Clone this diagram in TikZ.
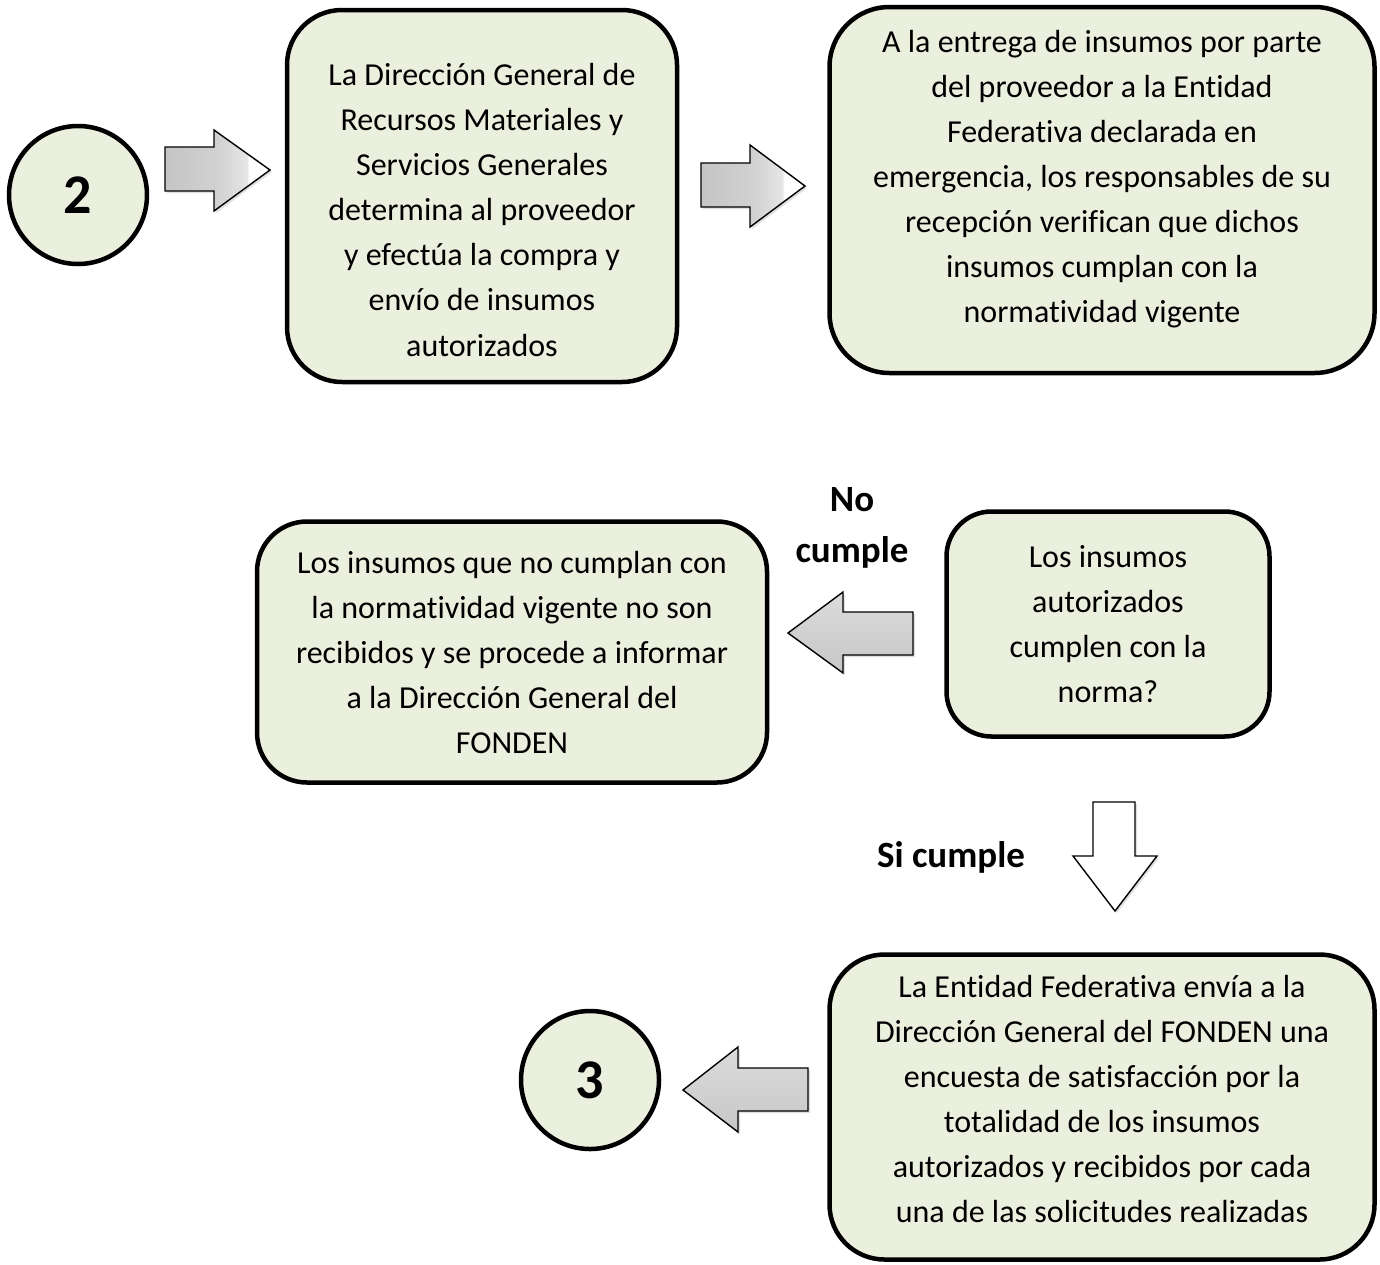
\documentclass[tikz,border=0pt]{standalone}
\usepackage{fontspec}
\setmainfont{Carlito}[Ligatures=NoCommon]
\usetikzlibrary{shadows}
\definecolor{boxfill}{RGB}{235,239,221}
\pgfdeclarehorizontalshading{rarrow}{100bp}{color(0bp)=(black!28); color(50bp)=(black!18); color(64bp)=(black!10); color(65bp)=(white); color(100bp)=(white)}
\pgfdeclareverticalshading{larrow}{100bp}{color(0bp)=(black!26); color(50bp)=(black!18); color(100bp)=(black!10)}
\tikzset{
  stepbox/.style={draw=black, line width=4.5pt, fill=boxfill, rounded corners=#1},
  stepbox/.default=55pt,
  endcircle/.style={draw=black, line width=4.5pt, fill=boxfill, circle, minimum size=138pt, inner sep=0pt, font=\fontsize{56}{60}\selectfont\bfseries},
  boxtext/.style={align=center, font=\fontsize{32}{45}\selectfont, inner sep=0pt},
  lbl/.style={align=center, font=\fontsize{37}{51}\selectfont\bfseries, inner sep=0pt},
  blockarrow/.style={draw=black, line width=1.4pt, line join=miter, drop shadow={opacity=0.25, shadow xshift=2pt, shadow yshift=-2pt}},
}
\begin{document}
\begin{tikzpicture}[x=1pt,y=-1pt]
\useasboundingbox (0,0) rectangle (1380,1264);
% circle 2
\node[endcircle] (c2) at (78,195) {2};
% box 1
\node[stepbox, minimum width=390pt, minimum height=372pt] (b1) at (482,196) {};
\node[boxtext] (t1) at (482,210) {La Dirección General de\\Recursos Materiales y\\Servicios Generales\\determina al proveedor\\y efectúa la compra y\\envío de insumos\\autorizados};
% box 2
\node[stepbox=60pt, minimum width=545pt, minimum height=366pt] (b2) at (1102,190) {};
\node[boxtext] (t2) at (1102,179) {A la entrega de insumos por parte\\del proveedor a la Entidad\\Federativa declarada en\\emergencia, los responsables de su\\recepción verifican que dichos\\insumos cumplan con la\\normatividad vigente};
% box 3
\node[stepbox=45pt, minimum width=323pt, minimum height=225pt] (b3) at (1108,624) {};
\node[boxtext] (t3) at (1108,624) {Los insumos\\autorizados\\cumplen con la\\norma?};
% box 4
\node[stepbox=50pt, minimum width=510pt, minimum height=261pt] (b4) at (512,652) {};
\node[boxtext] (t4) at (512,652) {Los insumos que no cumplan con\\la normatividad vigente no son\\recibidos y se procede a informar\\a la Dirección General del\\FONDEN};
% box 5
\node[stepbox=55pt, minimum width=545pt, minimum height=305pt] (b5) at (1102,1107) {};
\node[boxtext] (t5) at (1102,1099) {La Entidad Federativa envía a la\\Dirección General del FONDEN una\\encuesta de satisfacción por la\\totalidad de los insumos\\autorizados y recibidos por cada\\una de las solicitudes realizadas};
% circle 3
\node[endcircle] (c3) at (590,1080) {3};
% labels
\node[lbl] (nocumple) at (852,528) {No\\cumple};
\node[lbl] (sicumple) at (951,857) {Si cumple};
% arrows
\path[blockarrow, shading=rarrow] (165,147) -- (214,147) -- (214,130) -- (270,170) -- (214,211) -- (214,191) -- (165,191) -- cycle;
\path[blockarrow, shading=rarrow] (701,163) -- (750,163) -- (750,145) -- (805,186) -- (750,227) -- (750,207) -- (701,207) -- cycle;
\path[blockarrow, shading=larrow] (913,612) -- (843,612) -- (843,592) -- (788,633) -- (843,673) -- (843,655) -- (913,655) -- cycle;
\path[blockarrow, fill=white] (1093,802) -- (1135,802) -- (1135,856) -- (1157,856) -- (1115,911) -- (1073,856) -- (1093,856) -- cycle;
\path[blockarrow, shading=larrow] (808,1068) -- (738,1068) -- (738,1047) -- (683,1090) -- (738,1132) -- (738,1111) -- (808,1111) -- cycle;
\end{tikzpicture}
\end{document}
